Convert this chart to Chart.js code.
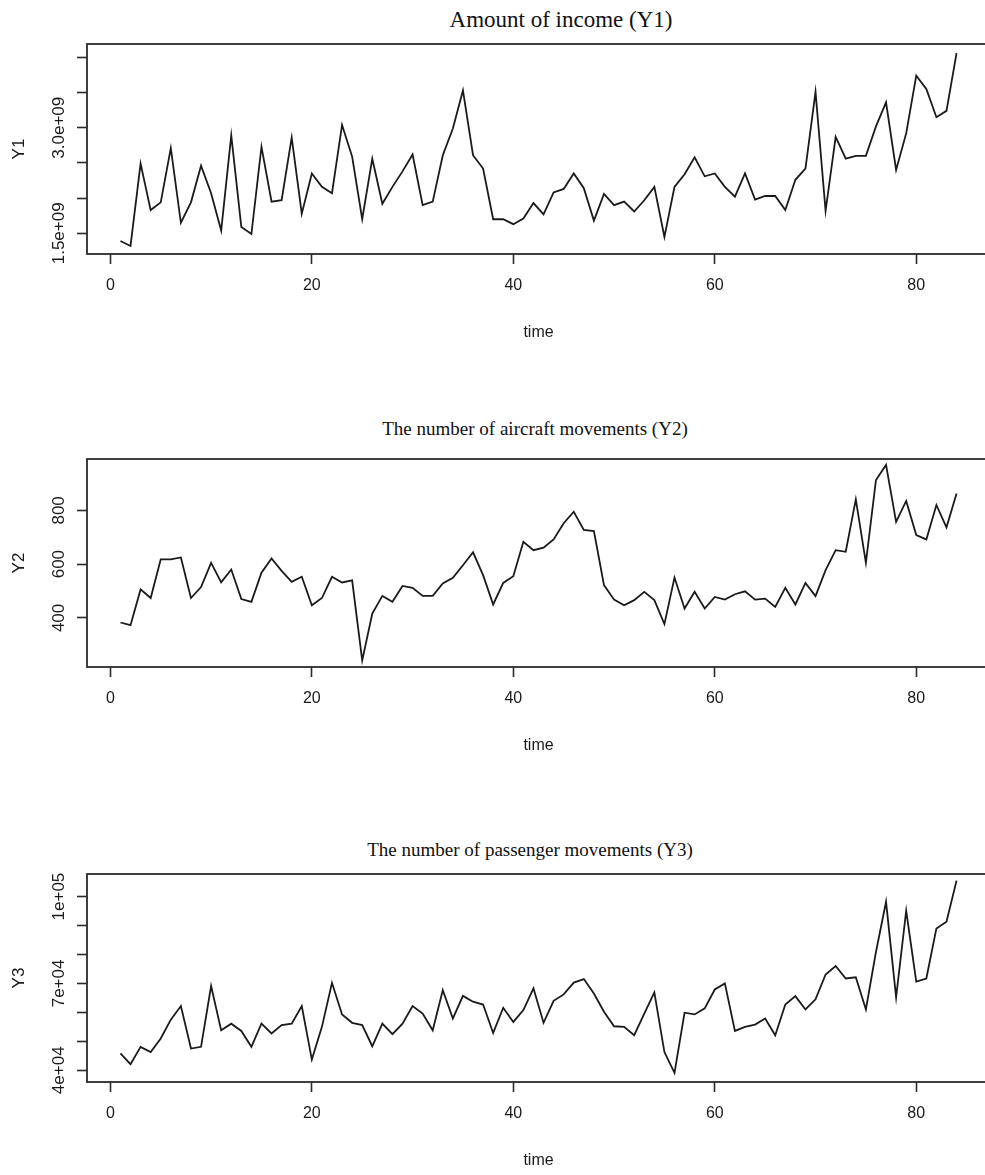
<!DOCTYPE html>
<html>
<head>
<meta charset="utf-8">
<script src="https://cdn.jsdelivr.net/npm/chart.js@4.4.1/dist/chart.umd.min.js"></script>
<style>
  html, body { margin: 0; padding: 0; background: #fff; width: 985px; height: 1175px; overflow: hidden; }
  canvas { position: absolute; left: 0; }
  .title { position: absolute; font-family: "Liberation Serif", "Times New Roman", serif; color: #111;
           white-space: nowrap; transform: translateX(-50%); line-height: 1; }
</style>
</head>
<body>
<div class="title" style="left:561px; top:8px; font-size:23px">Amount of income (Y1)</div>
<div class="title" style="left:535px; top:419px; font-size:19px">The number of aircraft movements (Y2)</div>
<div class="title" style="left:530px; top:840px; font-size:19px">The number of passenger movements (Y3)</div>
<canvas id="c1" width="995" height="347" style="top:0px"></canvas>
<canvas id="c2" width="995" height="345" style="top:415px"></canvas>
<canvas id="c3" width="995" height="345" style="top:830px"></canvas>
<script>
// time index (months)
const time = [1, 2, 3, 4, 5, 6, 7, 8, 9, 10, 11, 12, 13, 14, 15, 16, 17, 18, 19, 20,
  21, 22, 23, 24, 25, 26, 27, 28, 29, 30, 31, 32, 33, 34, 35, 36, 37, 38, 39, 40,
  41, 42, 43, 44, 45, 46, 47, 48, 49, 50, 51, 52, 53, 54, 55, 56, 57, 58, 59, 60,
  61, 62, 63, 64, 65, 66, 67, 68, 69, 70, 71, 72, 73, 74, 75, 76, 77, 78, 79, 80,
  81, 82, 83, 84];

// Y1 - amount of income
const income = [1.39e9, 1.32e9, 2.49e9, 1.83e9, 1.94e9, 2.71e9, 1.65e9, 1.94e9, 2.46e9, 2.07e9,
  1.54e9, 2.89e9, 1.59e9, 1.49e9, 2.73e9, 1.95e9, 1.97e9, 2.86e9, 1.78e9, 2.35e9,
  2.16e9, 2.07e9, 3.04e9, 2.59e9, 1.70e9, 2.56e9, 1.92e9, 2.16e9, 2.38e9, 2.62e9,
  1.90e9, 1.95e9, 2.61e9, 2.99e9, 3.53e9, 2.61e9, 2.42e9, 1.70e9, 1.70e9, 1.63e9,
  1.71e9, 1.93e9, 1.77e9, 2.08e9, 2.13e9, 2.35e9, 2.14e9, 1.68e9, 2.06e9, 1.90e9,
  1.95e9, 1.81e9, 1.97e9, 2.16e9, 1.45e9, 2.16e9, 2.34e9, 2.58e9, 2.31e9, 2.35e9,
  2.16e9, 2.02e9, 2.35e9, 1.98e9, 2.03e9, 2.03e9, 1.83e9, 2.26e9, 2.42e9, 3.51e9,
  1.82e9, 2.87e9, 2.56e9, 2.60e9, 2.60e9, 3.02e9, 3.36e9, 2.40e9, 2.92e9, 3.74e9,
  3.55e9, 3.15e9, 3.24e9, 4.06e9];

// Y2 - aircraft movements
const aircraft = [383, 373, 506, 474, 618, 618, 625, 474, 515, 605,
  532, 580, 470, 460, 568, 621, 575, 534, 553, 447,
  474, 553, 532, 540, 242, 416, 482, 460, 519, 512,
  482, 482, 528, 549, 596, 644, 559, 450, 530, 555,
  683, 652, 661, 692, 752, 795, 727, 723, 522, 468,
  447, 466, 497, 466, 377, 550, 435, 497, 435, 478,
  468, 488, 499, 468, 472, 441, 512, 450, 530, 481,
  578, 652, 646, 841, 605, 913, 969, 757, 835, 708,
  692, 820, 737, 863];

// Y3 - passenger movements
const passengers = [45800, 42100, 48100, 46300, 51000, 57500, 62200, 47500, 48100, 69100,
  53800, 56100, 53600, 48100, 56100, 52700, 55600, 56100, 62200, 43700,
  55000, 70200, 59300, 56400, 55600, 48300, 56100, 52500, 56100, 62200,
  59600, 53800, 67700, 57900, 65700, 63700, 62700, 52900, 61600, 56700,
  60800, 68300, 56400, 64000, 66200, 70300, 71500, 66500, 60200, 55200,
  55000, 52100, 59600, 66900, 46300, 39100, 59900, 59300, 61400, 67900,
  70000, 53600, 55000, 55800, 57900, 52100, 62700, 65600, 61000, 64500,
  73100, 76000, 71700, 72100, 61000, 80900, 98200, 65200, 95100, 70600,
  71700, 89000, 91300, 105500];

const xTicks = [0, 20, 40, 60, 80];
const xTickLabels = ['0', '20', '40', '60', '80'];
const incomeTicks = [1.5e9, 2.0e9, 2.5e9, 3.0e9, 3.5e9, 4.0e9];
const incomeTickLabels = ['1.5e+09', '', '', '3.0e+09', '', ''];
const aircraftTicks = [400, 600, 800];
const aircraftTickLabels = ['400', '600', '800'];
const passengerTicks = [40000, 50000, 60000, 70000, 80000, 90000, 100000];
const passengerTickLabels = ['4e+04', '', '', '7e+04', '', '', '1e+05'];

const FAMILY = '"Liberation Sans", Arial, sans-serif';
const INK = '#1a1a1a';

const boxPlugin = {
  id: 'box',
  afterDraw(chart) {
    const { ctx, chartArea: a } = chart;
    ctx.save();
    ctx.strokeStyle = '#2b2b2b';
    ctx.lineWidth = 1.8;
    ctx.strokeRect(a.left, a.top, a.right - a.left, a.bottom - a.top);
    ctx.restore();
  }
};

// padding so the rotated y labels sit centred around x = 59
function yLabelPadding(labels) {
  const c = document.createElement('canvas').getContext('2d');
  c.font = 'normal 17px ' + FAMILY;
  const w = Math.max(...labels.map(l => c.measureText(l).width));
  return 87 - 10 - 59 - w / 2;
}

function makePanel(id, yName, values, yMin, yMax, yTicks, yLabels) {
  new Chart(document.getElementById(id), {
    type: 'line',
    data: {
      datasets: [{
        data: time.map((t, i) => ({ x: t, y: values[i] })),
        borderColor: INK,
        borderWidth: 1.8,
        pointRadius: 0,
        tension: 0,
        fill: false
      }]
    },
    options: {
      responsive: false,
      animation: false,
      devicePixelRatio: 1,
      layout: { padding: { top: 44, right: 5, left: 0, bottom: 0 } },
      plugins: { legend: { display: false }, tooltip: { enabled: false } },
      scales: {
        x: {
          type: 'linear',
          min: -2.32,
          max: 87.32,
          afterBuildTicks: s => { s.ticks = xTicks.map(v => ({ value: v })); },
          afterFit: s => { s.height = 93; },
          ticks: {
            callback: (v, i) => xTickLabels[i],
            font: { size: 16, family: FAMILY },
            color: INK,
            padding: 12,
            maxRotation: 0,
            autoSkip: false
          },
          grid: { drawOnChartArea: false, drawTicks: true, tickLength: 10, tickColor: '#2b2b2b', tickWidth: 1.6 },
          border: { display: false },
          title: { display: true, text: 'time', color: INK, font: { size: 16, family: FAMILY }, padding: { top: 0, bottom: 5 } }
        },
        y: {
          min: yMin,
          max: yMax,
          afterBuildTicks: s => { s.ticks = yTicks.map(v => ({ value: v })); },
          afterFit: s => { s.width = 87; },
          ticks: {
            callback: (v, i) => yLabels[i],
            font: { size: 17, family: FAMILY },
            color: INK,
            minRotation: 90,
            maxRotation: 90,
            crossAlign: 'center',
            padding: yLabelPadding(yLabels),
            autoSkip: false
          },
          grid: { drawOnChartArea: false, drawTicks: true, tickLength: 10, tickColor: '#2b2b2b', tickWidth: 1.6 },
          border: { display: false },
          title: { display: true, text: yName, color: INK, font: { size: 17, family: FAMILY }, padding: { top: 9, bottom: 0 } }
        }
      }
    },
    plugins: [boxPlugin]
  });
}

makePanel('c1', 'Y1', income, 1.206e9, 4.19e9, incomeTicks, incomeTickLabels);
makePanel('c2', 'Y2', aircraft, 217.5, 991, aircraftTicks, aircraftTickLabels);
makePanel('c3', 'Y3', passengers, 35950, 107800, passengerTicks, passengerTickLabels);
</script>
</body>
</html>
